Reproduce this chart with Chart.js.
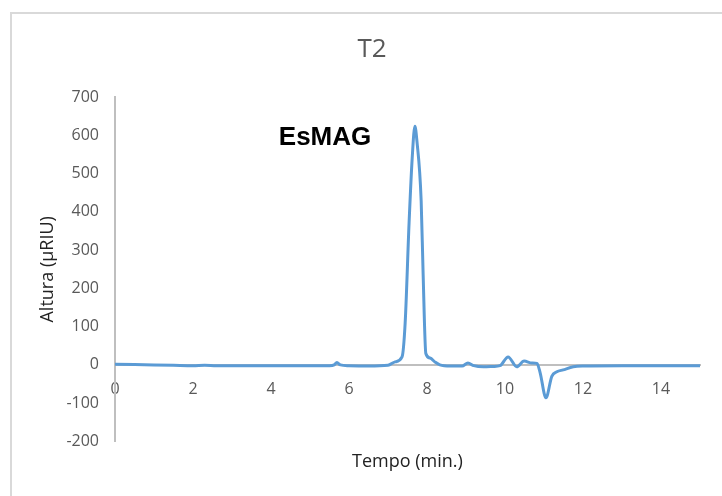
<!DOCTYPE html>
<html>
<head>
<meta charset="utf-8">
<script src="https://cdn.jsdelivr.net/npm/chart.js@4.4.1/dist/chart.umd.min.js"></script>
<style>
    body { margin: 0; overflow: hidden; background: #fff; }
    #frame { position: absolute; left: 10px; top: 12px; width: 900px; height: 700px;
             border-top: 2px solid #d9d9d9; border-left: 2px solid #d9d9d9; }
    #wrap { position: absolute; left: 0; top: 0; width: 722px; height: 496px; }
</style>
</head>
<body>
<div id="frame"></div>
<div id="wrap"><canvas id="chartT2" width="722" height="496"></canvas></div>
<script>
const tempo = [0, 0.5, 1, 1.5, 2, 2.3, 2.6, 3, 4, 5, 5.5, 5.62, 5.69, 5.78, 6, 6.5, 7, 7.18, 7.36, 7.44,
    7.54, 7.62, 7.69, 7.74, 7.85, 7.9, 7.97, 8.08, 8.2, 8.33, 8.6, 8.9, 9.05, 9.2, 9.45, 9.7, 9.87, 10.08,
    10.3, 10.49, 10.69, 10.82, 10.9, 11.05, 11.2, 11.33, 11.49, 11.75, 12, 13, 14, 15];
const altura = [2, 1, 0, -1, -2, -1, -2, -2, -2, -2, -2, 0, 6, 0, -2, -3, -1, 8, 21, 110,
    370, 540, 624, 587, 430, 240, 30, 18, 8, 0, -3, -3, 5, -2, -5, -4, -2, 21,
    -5, 10, 5, 4, -20, -86, -30, -18, -13, -5, -3, -2, -2, -2];

const xTicks = { min: 0, max: 15, step: 2 };
const yTicks = { min: -200, max: 700, step: 100 };

const chartTitle = 'T2';
const xTitle = 'Tempo (min.)';
const yTitle = 'Altura (µRIU)';
const peakLabel = { text: 'EsMAG', x: 4.2, y: 595 };

const gray = '#595959';
const axisLine = '#bfbfbf';

// Etiqueta del pico
const peakLabelPlugin = {
    id: 'peakLabel',
    afterDatasetsDraw(chart) {
        const ctx = chart.ctx;
        ctx.save();
        ctx.font = 'bold 26px "Liberation Sans", Arial, sans-serif';
        ctx.fillStyle = '#000';
        ctx.textAlign = 'left';
        ctx.textBaseline = 'middle';
        ctx.fillText(peakLabel.text, chart.scales.x.getPixelForValue(peakLabel.x),
            chart.scales.y.getPixelForValue(peakLabel.y));
        ctx.restore();
    }
};

new Chart(document.getElementById('chartT2').getContext('2d'), {
    type: 'line',
    data: {
        datasets: [{
            label: 'T2',
            data: tempo.map((t, i) => ({ x: t, y: altura[i] })),
            borderColor: '#5b9bd5',
            borderWidth: 3,
            pointRadius: 0,
            cubicInterpolationMode: 'monotone',
            fill: false
        }]
    },
    options: {
        responsive: false,
        animation: false,
        layout: { padding: { left: 44, right: 22, top: 12, bottom: 20 } },
        plugins: {
            legend: { display: false },
            tooltip: { enabled: false },
            title: {
                display: true,
                text: chartTitle,
                color: gray,
                font: { family: '"Open Sans", sans-serif', size: 26, weight: 'normal' },
                padding: { top: 22, bottom: 32 }
            }
        },
        scales: {
            x: {
                type: 'linear',
                position: { y: 0 },
                min: xTicks.min,
                max: xTicks.max,
                grid: { display: false, drawTicks: false },
                border: { display: true, color: axisLine, width: 2 },
                ticks: {
                    stepSize: xTicks.step,
                    includeBounds: false,
                    padding: 15,
                    color: gray,
                    font: { family: '"Open Sans", sans-serif', size: 16 }
                },
                afterFit: function(scale) { scale.height = 0; }
            },
            x2: {
                type: 'linear',
                position: 'bottom',
                min: xTicks.min,
                max: xTicks.max,
                grid: { display: false, drawTicks: false },
                border: { display: false },
                ticks: { display: false },
                title: {
                    display: true,
                    text: xTitle,
                    color: '#222',
                    font: { family: '"Open Sans", sans-serif', size: 18 },
                    padding: { top: 10, bottom: 3 }
                }
            },
            y: {
                min: yTicks.min,
                max: yTicks.max,
                grid: { display: false, drawTicks: false },
                border: { display: true, color: axisLine, width: 2 },
                ticks: {
                    stepSize: yTicks.step,
                    padding: 16,
                    color: gray,
                    font: { family: '"Open Sans", sans-serif', size: 16 }
                },
                title: {
                    display: true,
                    text: yTitle,
                    color: '#222',
                    font: { family: '"Open Sans", sans-serif', size: 18 },
                    padding: { top: -7, bottom: 0 }
                },
                afterFit: function(scale) { scale.width = 71; }
            }
        }
    },
    plugins: [peakLabelPlugin]
});
</script>
</body>
</html>
